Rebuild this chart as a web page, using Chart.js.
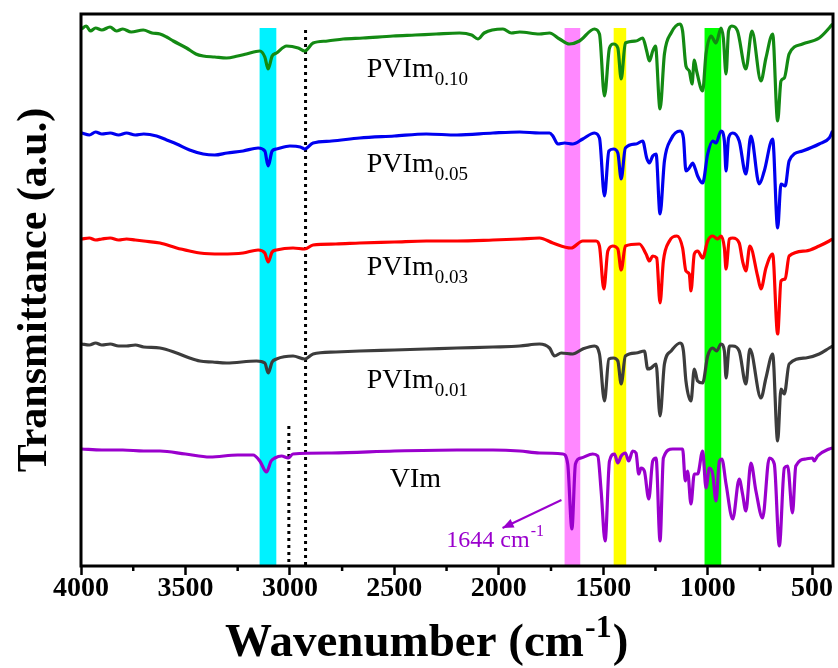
<!DOCTYPE html>
<html>
<head>
<meta charset="utf-8">
<script src="https://cdn.jsdelivr.net/npm/chart.js@4.4.1/dist/chart.umd.min.js"></script>
<style>
    html, body { margin: 0; padding: 0; background: #fff; overflow: hidden; }
    #wrap { width: 838px; height: 668px; }
</style>
</head>
<body>
<div id="wrap"><canvas id="ftir"></canvas></div>
<script>
// FTIR spectra, stacked with vertical offsets (transmittance in a.u.)

const majorTicks = [4000, 3500, 3000, 2500, 2000, 1500, 1000, 500];
const minorTicks = [3750, 3250, 2750, 2250, 1750, 1250, 750];

// [wavenumber, transmittance]
const pvim010 = [
    [3997, 537], [3975, 540], [3955, 535], [3930, 538], [3900, 536], [3861, 539], [3830, 535],
    [3800, 537], [3760, 534], [3702, 536], [3660, 533], [3622, 532], [3590, 529], [3558, 525],
    [3495, 518], [3450, 512], [3415, 510], [3360, 509], [3303, 508], [3250, 510], [3208, 512],
    [3144, 515], [3120, 509], [3104, 497], [3085, 510], [3064, 513], [3016, 520], [2960, 518],
    [2929, 515], [2889, 523], [2820, 525], [2745, 527], [2650, 528], [2506, 530], [2400, 531],
    [2300, 532], [2188, 533], [2130, 531], [2100, 527], [2070, 533], [1980, 537], [1940, 533],
    [1900, 534], [1805, 532], [1757, 533], [1709, 527], [1662, 522], [1614, 525], [1542, 537],
    [1518, 532], [1494, 470], [1470, 518], [1451, 522], [1430, 518], [1414, 487], [1394, 523],
    [1343, 525], [1311, 528], [1292, 515], [1279, 505], [1263, 515], [1250, 520], [1228, 457],
    [1207, 512], [1175, 533], [1132, 542], [1120, 535], [1104, 500], [1088, 495], [1075, 482],
    [1064, 506], [1053, 495], [1024, 475], [1008, 512], [984, 530], [960, 523], [936, 538],
    [925, 528], [912, 492], [900, 535], [884, 540], [857, 535], [817, 497], [788, 535],
    [745, 485], [721, 508], [689, 532], [665, 445], [649, 485], [633, 488], [610, 512],
    [546, 522], [466, 528], [418, 538], [402, 542]
];

const pvim005 = [
    [3997, 433], [3960, 431], [3930, 434], [3900, 432], [3860, 433], [3820, 431], [3782, 433],
    [3740, 431], [3700, 432], [3638, 430], [3590, 426], [3542, 422], [3480, 416], [3415, 412],
    [3360, 411], [3300, 413], [3224, 415], [3152, 418], [3120, 415], [3104, 400], [3085, 415],
    [3064, 417], [3000, 420], [2950, 419], [2929, 417], [2889, 423], [2800, 425], [2666, 428],
    [2500, 430], [2347, 432], [2200, 431], [2028, 433], [1900, 434], [1805, 433], [1757, 433],
    [1741, 430], [1717, 422], [1685, 423], [1646, 422], [1598, 427], [1542, 433], [1518, 428],
    [1494, 370], [1473, 415], [1451, 417], [1430, 413], [1414, 387], [1394, 418], [1343, 422],
    [1311, 425], [1292, 408], [1279, 403], [1263, 410], [1247, 412], [1228, 352], [1207, 405],
    [1175, 427], [1132, 435], [1116, 428], [1104, 395], [1088, 398], [1072, 403], [1059, 397],
    [1048, 390], [1024, 383], [1000, 412], [976, 425], [960, 423], [936, 435], [920, 425],
    [912, 395], [900, 428], [880, 433], [849, 425], [817, 392], [793, 430], [753, 382],
    [729, 395], [689, 427], [665, 338], [649, 382], [629, 380], [610, 405], [546, 415],
    [466, 422], [418, 428], [402, 435]
];

const pvim003 = [
    [3997, 327], [3960, 328], [3930, 326], [3900, 327], [3860, 328], [3820, 326], [3782, 327],
    [3740, 326], [3700, 325], [3622, 323], [3542, 318], [3480, 315], [3431, 313], [3330, 312],
    [3224, 313], [3152, 316], [3120, 313], [3104, 304], [3085, 314], [3064, 316], [2985, 318],
    [2929, 317], [2889, 321], [2780, 322], [2666, 323], [2500, 324], [2347, 325], [2200, 325],
    [2028, 326], [1900, 327], [1805, 328], [1741, 323], [1654, 318], [1598, 325], [1534, 325],
    [1518, 320], [1497, 277], [1478, 315], [1454, 320], [1430, 317], [1414, 296], [1394, 320],
    [1327, 322], [1295, 312], [1279, 305], [1263, 310], [1244, 308], [1228, 263], [1212, 305],
    [1183, 325], [1147, 330], [1120, 318], [1104, 295], [1088, 292], [1080, 275], [1064, 312],
    [1048, 315], [1024, 308], [1000, 325], [976, 330], [952, 327], [936, 330], [920, 318],
    [912, 297], [896, 327], [880, 328], [849, 323], [833, 305], [817, 295], [798, 320],
    [761, 290], [745, 277], [721, 298], [689, 312], [665, 232], [649, 285], [629, 287],
    [610, 310], [530, 315], [466, 320], [418, 325], [402, 327]
];

const pvim001 = [
    [3997, 222], [3960, 221], [3930, 223], [3900, 221], [3860, 222], [3820, 220], [3782, 220],
    [3740, 221], [3700, 219], [3622, 218], [3542, 213], [3480, 208], [3431, 205], [3370, 204],
    [3303, 203], [3160, 205], [3120, 203], [3104, 193], [3085, 204], [3064, 207], [2985, 210],
    [2929, 207], [2889, 212], [2780, 214], [2666, 215], [2500, 216], [2347, 217], [2200, 218],
    [2028, 219], [1900, 220], [1805, 222], [1757, 218], [1733, 210], [1701, 213], [1646, 212],
    [1598, 217], [1542, 220], [1518, 212], [1494, 165], [1473, 207], [1451, 208], [1430, 205],
    [1414, 182], [1394, 210], [1343, 213], [1303, 215], [1287, 197], [1271, 198], [1247, 202],
    [1228, 150], [1207, 202], [1175, 215], [1132, 223], [1116, 215], [1104, 185], [1080, 165],
    [1064, 197], [1048, 185], [1024, 183], [1000, 210], [976, 218], [957, 215], [936, 222],
    [920, 215], [912, 188], [896, 220], [880, 220], [849, 215], [817, 182], [798, 217],
    [745, 168], [721, 188], [689, 212], [665, 125], [649, 177], [633, 172], [610, 202],
    [530, 208], [466, 212], [418, 218], [402, 220]
];

const vim = [
    [3997, 117], [3900, 116], [3800, 116], [3700, 115], [3622, 115], [3500, 112], [3383, 109],
    [3250, 111], [3176, 111], [3144, 105], [3112, 94], [3090, 105], [3072, 108], [3040, 110],
    [3008, 108], [2985, 112], [2800, 113], [2500, 115], [2200, 116], [2028, 116], [1900, 115],
    [1805, 113], [1693, 112], [1670, 102], [1650, 37], [1633, 102], [1606, 108], [1550, 112],
    [1526, 110], [1510, 75], [1491, 25], [1470, 105], [1446, 112], [1430, 103], [1414, 110],
    [1394, 113], [1378, 105], [1359, 115], [1343, 113], [1330, 92], [1319, 98], [1303, 95],
    [1282, 67], [1263, 105], [1247, 108], [1228, 25], [1212, 108], [1167, 117], [1120, 117],
    [1107, 85], [1096, 95], [1080, 62], [1064, 92], [1048, 92], [1024, 115], [1008, 78],
    [992, 98], [976, 92], [960, 65], [944, 105], [932, 107], [912, 82], [880, 47], [849, 87],
    [833, 72], [817, 55], [793, 103], [769, 75], [737, 48], [705, 108], [681, 102], [657, 20],
    [633, 98], [617, 100], [594, 53], [578, 100], [530, 107], [498, 108], [490, 105],
    [474, 110], [418, 117], [402, 118]
];

const spectra = [pvim010, pvim005, pvim003, pvim001, vim];
const lineColors = ['#138a13', '#0000f0', '#ff0000', '#3c3c3c', '#9a00cd'];

// sample labels: main text, subscript, anchor [wavenumber, a.u.]
const labelMain = ['PVIm', 'PVIm', 'PVIm', 'PVIm', 'VIm'];
const labelSub = ['0.10', '0.05', '0.03', '0.01', ''];
const labelAt = [[2632, 489], [2632, 394], [2632, 291], [2632, 178], [2522, 79]];

// highlighted regions (wavenumber ranges)
const bandRanges = [[3145, 3065], [1685, 1610], [1450, 1390], [1015, 935]];
const bandColors = ['#00f2ff', '#ff88ff', '#ffff00', '#00ff00'];
const bandTop = 538;

// dotted reference lines: wavenumber, top (a.u.)
const dottedLines = [[2925, 536], [3005, 140]];

const serif = "'Liberation Serif', 'Times New Roman', serif";

// text with a trailing sub/superscript, optionally followed by more text
function drawScript(ctx, x, y, main, small, size, color, raise, tail, weight) {
    ctx.save();
    ctx.fillStyle = color;
    ctx.textBaseline = 'alphabetic';
    ctx.textAlign = 'left';
    const w8 = weight || 'normal';
    ctx.font = `${w8} ${size}px ${serif}`;
    ctx.fillText(main, x, y);
    let cx = x + ctx.measureText(main).width;
    if (small) {
        ctx.font = `${w8} ${Math.round(size * 0.68)}px ${serif}`;
        ctx.fillText(small, cx + 1, y + raise);
        cx += ctx.measureText(small).width + 2;
    }
    if (tail) {
        ctx.font = `${w8} ${size}px ${serif}`;
        ctx.fillText(tail, cx, y);
    }
    ctx.restore();
}

const decorPlugin = {
    id: 'decor',
    beforeDatasetsDraw(chart) {
        const { ctx, scales: { x, y } } = chart;
        ctx.save();
        bandRanges.forEach((r, i) => {
            const x0 = x.getPixelForValue(r[0]);
            const x1 = x.getPixelForValue(r[1]);
            ctx.fillStyle = bandColors[i];
            ctx.fillRect(x0, y.getPixelForValue(bandTop), x1 - x0, y.getPixelForValue(0) - y.getPixelForValue(bandTop));
        });
        ctx.strokeStyle = '#000';
        ctx.lineWidth = 3;
        ctx.setLineDash([3, 4]);
        dottedLines.forEach(d => {
            const px = x.getPixelForValue(d[0]);
            ctx.beginPath();
            ctx.moveTo(px, y.getPixelForValue(d[1]));
            ctx.lineTo(px, y.getPixelForValue(0));
            ctx.stroke();
        });
        ctx.restore();
    },
    afterDatasetsDraw(chart) {
        const { ctx, scales: { x, y } } = chart;
        labelMain.forEach((t, i) => {
            drawScript(ctx, x.getPixelForValue(labelAt[i][0]), y.getPixelForValue(labelAt[i][1]),
                t, labelSub[i], 28, '#000', 8);
        });

        // 1644 cm-1 annotation with arrow
        const purple = lineColors[4];
        const ax0 = x.getPixelForValue(1700), ay0 = y.getPixelForValue(66);
        const ax1 = x.getPixelForValue(1982), ay1 = y.getPixelForValue(38);
        ctx.save();
        ctx.strokeStyle = purple;
        ctx.fillStyle = purple;
        ctx.lineWidth = 2;
        ctx.beginPath();
        ctx.moveTo(ax0, ay0);
        ctx.lineTo(ax1, ay1);
        ctx.stroke();
        const ang = Math.atan2(ay1 - ay0, ax1 - ax0);
        ctx.beginPath();
        ctx.moveTo(ax1, ay1);
        ctx.lineTo(ax1 - 12 * Math.cos(ang - 0.4), ay1 - 12 * Math.sin(ang - 0.4));
        ctx.lineTo(ax1 - 12 * Math.cos(ang + 0.4), ay1 - 12 * Math.sin(ang + 0.4));
        ctx.closePath();
        ctx.fill();
        ctx.restore();
        drawScript(ctx, x.getPixelForValue(2251), y.getPixelForValue(19), '1644 cm', '-1', 24, purple, -11);

        // minor ticks
        ctx.save();
        ctx.strokeStyle = '#000';
        ctx.lineWidth = 2.5;
        const bottom = chart.chartArea.bottom;
        minorTicks.forEach(v => {
            const px = x.getPixelForValue(v);
            ctx.beginPath();
            ctx.moveTo(px, bottom);
            ctx.lineTo(px, bottom + 5);
            ctx.stroke();
        });
        ctx.restore();

        // x axis title with superscript
        drawScript(ctx, 225, 656, 'Wavenumber (cm', '-1', 47, '#000', -19, ')', 'bold');
    },
    afterDraw(chart) {
        const { ctx, chartArea: a } = chart;
        ctx.save();
        ctx.strokeStyle = '#000';
        ctx.lineWidth = 3;
        ctx.strokeRect(a.left, a.top, a.right - a.left, a.bottom - a.top);
        ctx.restore();
    }
};

new Chart(document.getElementById('ftir'), {
    type: 'line',
    data: {
        datasets: spectra.map((d, i) => ({
            label: labelMain[i] + labelSub[i],
            data: d,
            borderColor: lineColors[i],
            borderWidth: 3.2,
            pointRadius: 0,
            fill: false,
            cubicInterpolationMode: 'monotone'
        }))
    },
    options: {
        responsive: true,
        maintainAspectRatio: false,
        animation: false,
        layout: { padding: { top: 14, right: 5, left: 0, bottom: 0 } },
        plugins: { legend: { display: false }, tooltip: { enabled: false } },
        scales: {
            x: {
                type: 'linear',
                reverse: true,
                min: 400,
                max: 4000,
                afterBuildTicks: s => { s.ticks = majorTicks.map(v => ({ value: v })); },
                afterFit: s => { s.height = 102; },
                border: { display: false },
                grid: { drawOnChartArea: false, tickLength: 9, tickWidth: 2.5, tickColor: '#000' },
                ticks: {
                    autoSkip: false,
                    maxRotation: 0,
                    padding: -3,
                    color: '#000',
                    font: { family: serif, size: 28, weight: 'bold' },
                    callback: v => String(v)
                }
            },
            y: {
                min: 0,
                max: 552,
                afterFit: s => { s.width = 81; },
                border: { display: false },
                grid: { display: false },
                ticks: { display: false },
                title: {
                    display: true,
                    text: 'Transmittance (a.u.)',
                    color: '#000',
                    padding: { top: 10, bottom: 0 },
                    font: { family: serif, size: 42, weight: 'bold' }
                }
            }
        }
    },
    plugins: [decorPlugin]
});
</script>
</body>
</html>
